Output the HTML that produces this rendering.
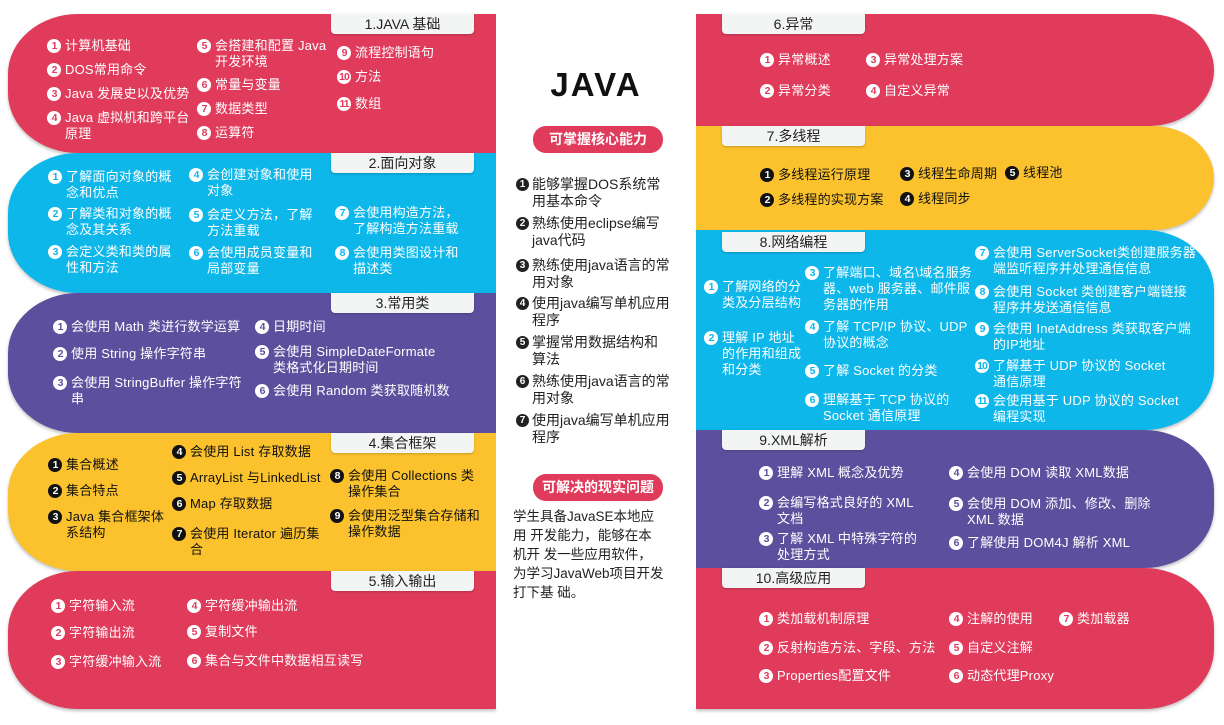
<!DOCTYPE html>
<html><head><meta charset="utf-8"><style>
*{margin:0;padding:0;box-sizing:border-box}
body{width:1224px;height:725px;background:#fff;position:relative;overflow:hidden;font-family:"Liberation Sans","Noto Sans CJK SC",sans-serif}
.p{position:absolute;box-shadow:0 2px 3px rgba(0,0,0,.25)}
.L{left:8px;width:488px;border-radius:70px 0 0 70px/60px 0 0 60px}
.R{left:696px;width:518px;border-radius:0 70px 70px 0/0 60px 60px 0}
.red{background:#e03b5b}.blue{background:#0db7ea}.pur{background:#5c4f9e}.yel{background:#fbc22d}
.tab{position:absolute;width:143px;height:20px;background:#f3f4f4;border-radius:0 0 4px 4px;font-size:14px;line-height:20px;text-align:center;color:#222;box-shadow:0 1px 2px rgba(0,0,0,.2)}
.t{position:absolute;font-size:13px;line-height:16px;color:#fff;padding-left:18px;letter-spacing:.2px}
.t b{position:absolute;left:0;top:1px;width:14px;height:14px;border-radius:50%;background:#fff;font-size:10.5px;line-height:14px;text-align:center;font-weight:bold;font-family:"Liberation Sans",sans-serif;letter-spacing:-1px}
.cr b{color:#e03b5b}.cb b{color:#0db7ea}.cp b{color:#5c4f9e}
.cy{color:#111}.cy b{background:#111;color:#fff}
.c{position:absolute;font-size:14px;line-height:17px;color:#222;padding-left:16px;width:154px}
.c b{position:absolute;left:0;top:2px;width:13px;height:13px;border-radius:50%;background:#222;color:#fff;font-size:10px;line-height:13px;text-align:center}
.pill{position:absolute;left:533px;width:130px;height:27px;border-radius:13px;background:#e03b5b;color:#fff;font-weight:bold;font-size:14px;line-height:27px;text-align:center}
</style></head><body>
<div class="p L red" style="top:14px;height:139px"></div>
<div class="p L blue" style="top:153px;height:140px"></div>
<div class="p L pur" style="top:293px;height:140px"></div>
<div class="p L yel" style="top:433px;height:138px"></div>
<div class="p L red" style="top:571px;height:138px"></div>
<div class="p R red" style="top:14px;height:112px"></div>
<div class="p R yel" style="top:126px;height:104px"></div>
<div class="p R blue" style="top:230px;height:200px"></div>
<div class="p R pur" style="top:430px;height:138px"></div>
<div class="p R red" style="top:568px;height:141px"></div>
<div class="tab" style="left:331px;top:14px">1.JAVA 基础</div>
<div class="tab" style="left:331px;top:153px">2.面向对象</div>
<div class="tab" style="left:331px;top:293px">3.常用类</div>
<div class="tab" style="left:331px;top:433px">4.集合框架</div>
<div class="tab" style="left:331px;top:571px">5.输入输出</div>
<div class="tab" style="left:722px;top:14px">6.异常</div>
<div class="tab" style="left:722px;top:126px">7.多线程</div>
<div class="tab" style="left:722px;top:232px">8.网络编程</div>
<div class="tab" style="left:722px;top:430px">9.XML解析</div>
<div class="tab" style="left:722px;top:568px">10.高级应用</div>
<div style="position:absolute;left:496px;top:14px;width:200px;height:695px;background:#fff"></div>
<div style="position:absolute;left:496px;top:66px;width:200px;text-align:center;font-size:33px;font-weight:bold;color:#111;letter-spacing:2px">JAVA</div>
<div class="pill" style="top:126px">可掌握核心能力</div>
<div class="c" style="left:516px;top:176px"><b>1</b>能够掌握DOS系统常用基本命令</div>
<div class="c" style="left:516px;top:215px"><b>2</b>熟练使用eclipse编写java代码</div>
<div class="c" style="left:516px;top:257px"><b>3</b>熟练使用java语言的常用对象</div>
<div class="c" style="left:516px;top:295px"><b>4</b>使用java编写单机应用程序</div>
<div class="c" style="left:516px;top:334px"><b>5</b>掌握常用数据结构和算法</div>
<div class="c" style="left:516px;top:373px"><b>6</b>熟练使用java语言的常用对象</div>
<div class="c" style="left:516px;top:412px"><b>7</b>使用java编写单机应用程序</div>
<div class="pill" style="top:474px">可解决的现实问题</div>
<div style="position:absolute;left:513px;top:507px;width:152px;font-size:13.5px;line-height:19px;color:#222">学生具备JavaSE本地应用 开发能力，能够在本机开 发一些应用软件，为学习JavaWeb项目开发打下基 础。</div>
<div class="t cr" style="left:47px;top:38px"><b>1</b>计算机基础</div>
<div class="t cr" style="left:47px;top:62px"><b>2</b>DOS常用命令</div>
<div class="t cr" style="left:47px;top:86px"><b>3</b>Java 发展史以及优势</div>
<div class="t cr" style="left:47px;top:110px;width:148px"><b>4</b>Java 虚拟机和跨平台原理</div>
<div class="t cr" style="left:197px;top:38px;width:138px"><b>5</b>会搭建和配置 Java 开发环境</div>
<div class="t cr" style="left:197px;top:77px"><b>6</b>常量与变量</div>
<div class="t cr" style="left:197px;top:101px"><b>7</b>数据类型</div>
<div class="t cr" style="left:197px;top:125px"><b>8</b>运算符</div>
<div class="t cr" style="left:337px;top:45px"><b>9</b>流程控制语句</div>
<div class="t cr" style="left:337px;top:69px"><b>10</b>方法</div>
<div class="t cr" style="left:337px;top:96px"><b>11</b>数组</div>
<div class="t cb" style="left:48px;top:169px;width:130px"><b>1</b>了解面向对象的概念和优点</div>
<div class="t cb" style="left:48px;top:206px;width:130px"><b>2</b>了解类和对象的概念及其关系</div>
<div class="t cb" style="left:48px;top:244px;width:130px"><b>3</b>会定义类和类的属性和方法</div>
<div class="t cb" style="left:189px;top:167px;width:130px"><b>4</b>会创建对象和使用对象</div>
<div class="t cb" style="left:189px;top:207px;width:130px"><b>5</b>会定义方法，了解方法重载</div>
<div class="t cb" style="left:189px;top:245px;width:130px"><b>6</b>会使用成员变量和局部变量</div>
<div class="t cb" style="left:335px;top:205px;width:130px"><b>7</b>会使用构造方法，了解构造方法重载</div>
<div class="t cb" style="left:335px;top:245px;width:130px"><b>8</b>会使用类图设计和描述类</div>
<div class="t cp" style="left:53px;top:319px"><b>1</b>会使用 Math 类进行数学运算</div>
<div class="t cp" style="left:53px;top:346px"><b>2</b>使用 String 操作字符串</div>
<div class="t cp" style="left:53px;top:375px;width:190px"><b>3</b>会使用 StringBuffer 操作字符串</div>
<div class="t cp" style="left:255px;top:319px"><b>4</b>日期时间</div>
<div class="t cp" style="left:255px;top:344px;width:195px"><b>5</b>会使用 SimpleDateFormate 类格式化日期时间</div>
<div class="t cp" style="left:255px;top:383px"><b>6</b>会使用 Random 类获取随机数</div>
<div class="t cy" style="left:48px;top:457px"><b>1</b>集合概述</div>
<div class="t cy" style="left:48px;top:483px"><b>2</b>集合特点</div>
<div class="t cy" style="left:48px;top:509px;width:118px"><b>3</b>Java 集合框架体系结构</div>
<div class="t cy" style="left:172px;top:444px"><b>4</b>会使用 List 存取数据</div>
<div class="t cy" style="left:172px;top:470px"><b>5</b>ArrayList 与LinkedList</div>
<div class="t cy" style="left:172px;top:496px"><b>6</b>Map 存取数据</div>
<div class="t cy" style="left:172px;top:526px;width:148px"><b>7</b>会使用 Iterator 遍历集合</div>
<div class="t cy" style="left:330px;top:468px;width:150px"><b>8</b>会使用 Collections 类操作集合</div>
<div class="t cy" style="left:330px;top:508px;width:150px"><b>9</b>会使用泛型集合存储和操作数据</div>
<div class="t cr" style="left:51px;top:598px"><b>1</b>字符输入流</div>
<div class="t cr" style="left:51px;top:625px"><b>2</b>字符输出流</div>
<div class="t cr" style="left:51px;top:654px"><b>3</b>字符缓冲输入流</div>
<div class="t cr" style="left:187px;top:598px"><b>4</b>字符缓冲输出流</div>
<div class="t cr" style="left:187px;top:624px"><b>5</b>复制文件</div>
<div class="t cr" style="left:187px;top:653px"><b>6</b>集合与文件中数据相互读写</div>
<div class="t cr" style="left:760px;top:52px"><b>1</b>异常概述</div>
<div class="t cr" style="left:760px;top:83px"><b>2</b>异常分类</div>
<div class="t cr" style="left:866px;top:52px"><b>3</b>异常处理方案</div>
<div class="t cr" style="left:866px;top:83px"><b>4</b>自定义异常</div>
<div class="t cy" style="left:760px;top:167px"><b>1</b>多线程运行原理</div>
<div class="t cy" style="left:760px;top:192px"><b>2</b>多线程的实现方案</div>
<div class="t cy" style="left:900px;top:166px"><b>3</b>线程生命周期</div>
<div class="t cy" style="left:900px;top:191px"><b>4</b>线程同步</div>
<div class="t cy" style="left:1005px;top:165px"><b>5</b>线程池</div>
<div class="t cb" style="left:704px;top:279px;width:100px"><b>1</b>了解网络的分类及分层结构</div>
<div class="t cb" style="left:704px;top:330px;width:100px"><b>2</b>理解 IP 地址的作用和组成和分类</div>
<div class="t cb" style="left:805px;top:265px;width:170px"><b>3</b>了解端口、域名\域名服务器、web 服务器、邮件服务器的作用</div>
<div class="t cb" style="left:805px;top:319px;width:170px"><b>4</b>了解 TCP/IP 协议、UDP 协议的概念</div>
<div class="t cb" style="left:805px;top:363px;width:170px"><b>5</b>了解 Socket 的分类</div>
<div class="t cb" style="left:805px;top:392px;width:165px"><b>6</b>理解基于 TCP 协议的 Socket 通信原理</div>
<div class="t cb" style="left:975px;top:245px;width:222px"><b>7</b>会使用 ServerSocket类创建服务器端监听程序并处理通信信息</div>
<div class="t cb" style="left:975px;top:284px;width:222px"><b>8</b>会使用 Socket 类创建客户端链接程序并发送通信信息</div>
<div class="t cb" style="left:975px;top:321px;width:222px"><b>9</b>会使用 InetAddress 类获取客户端的IP地址</div>
<div class="t cb" style="left:975px;top:358px;width:205px"><b>10</b>了解基于 UDP 协议的 Socket 通信原理</div>
<div class="t cb" style="left:975px;top:393px;width:205px"><b>11</b>会使用基于 UDP 协议的 Socket 编程实现</div>
<div class="t cp" style="left:759px;top:465px"><b>1</b>理解 XML 概念及优势</div>
<div class="t cp" style="left:759px;top:495px;width:165px"><b>2</b>会编写格式良好的 XML 文档</div>
<div class="t cp" style="left:759px;top:531px;width:165px"><b>3</b>了解 XML 中特殊字符的处理方式</div>
<div class="t cp" style="left:949px;top:465px"><b>4</b>会使用 DOM 读取 XML数据</div>
<div class="t cp" style="left:949px;top:496px;width:205px"><b>5</b>会使用 DOM 添加、修改、删除 XML 数据</div>
<div class="t cp" style="left:949px;top:535px"><b>6</b>了解使用 DOM4J 解析 XML</div>
<div class="t cr" style="left:759px;top:611px"><b>1</b>类加载机制原理</div>
<div class="t cr" style="left:759px;top:640px"><b>2</b>反射构造方法、字段、方法</div>
<div class="t cr" style="left:759px;top:668px"><b>3</b>Properties配置文件</div>
<div class="t cr" style="left:949px;top:611px"><b>4</b>注解的使用</div>
<div class="t cr" style="left:949px;top:640px"><b>5</b>自定义注解</div>
<div class="t cr" style="left:949px;top:668px"><b>6</b>动态代理Proxy</div>
<div class="t cr" style="left:1059px;top:611px"><b>7</b>类加载器</div>
</body></html>
